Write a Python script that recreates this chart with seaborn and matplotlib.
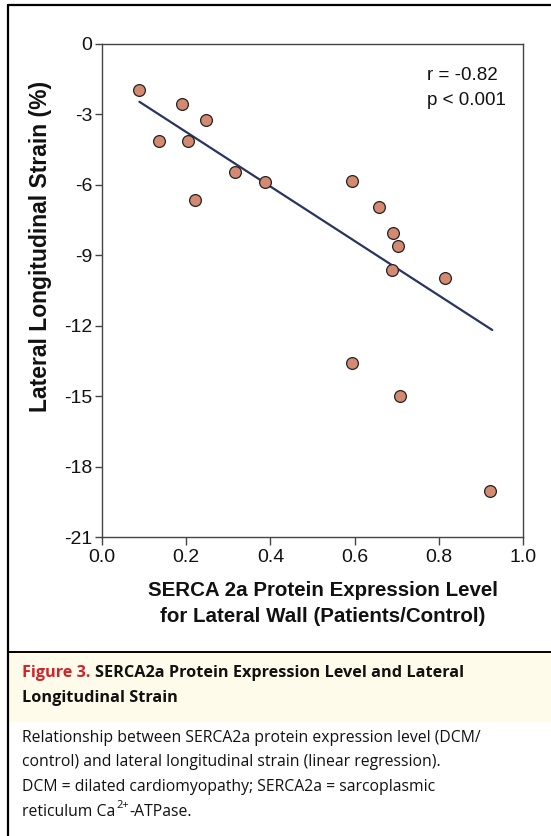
import matplotlib
matplotlib.use("Agg")
import matplotlib.pyplot as plt
import seaborn as sns
import numpy as np
import pandas as pd
from matplotlib.lines import Line2D
from matplotlib.patches import Rectangle

# ---- data ----
serca_level = [0.087, 0.189, 0.246, 0.135, 0.205, 0.315, 0.388, 0.221,
               0.594, 0.658, 0.691, 0.704, 0.690, 0.814, 0.595, 0.708, 0.922]
lateral_strain = [-1.96, -2.54, -3.24, -4.15, -4.15, -5.47, -5.86, -6.66,
                  -5.83, -6.96, -8.05, -8.62, -9.64, -9.97, -13.59, -14.98, -19.05]
fit_slope = -11.6
fit_intercept = -1.43
fit_x_range = [0.089, 0.927]
x_ticks = [0.0, 0.2, 0.4, 0.6, 0.8, 1.0]
x_tick_labels = ["0.0", "0.2", "0.4", "0.6", "0.8", "1.0"]
y_ticks = [0, -3, -6, -9, -12, -15, -18, -21]
y_tick_labels = ["0", "-3", "-6", "-9", "-12", "-15", "-18", "-21"]
stats_lines = ["r = -0.82", "p < 0.001"]
x_label_lines = ["SERCA 2a Protein Expression Level", "for Lateral Wall (Patients/Control)"]
y_label = "Lateral Longitudinal Strain (%)"
caption_head = "Figure 3."
caption_title_1 = "SERCA2a Protein Expression Level and Lateral"
caption_title_2 = "Longitudinal Strain"
caption_body = [
    "Relationship between SERCA2a protein expression level (DCM/",
    "control) and lateral longitudinal strain (linear regression).",
    "DCM = dilated cardiomyopathy; SERCA2a = sarcoplasmic",
]
caption_last = ["reticulum Ca", "2+", "-ATPase."]

sns.set_style("ticks")
plt.rcParams["font.family"] = ["Liberation Sans", "DejaVu Sans"]

W, H = 551, 836
fig = plt.figure(figsize=(W / 100, H / 100), dpi=100)
ax = fig.add_axes([102 / W, 1 - 537 / H, (523 - 102) / W, (537 - 44) / H])

df = pd.DataFrame({"x": serca_level, "y": lateral_strain})
fx = np.array(fit_x_range)
fit_df = pd.DataFrame({"x": fx, "y": fit_intercept + fit_slope * fx})

sns.lineplot(data=fit_df, x="x", y="y", ax=ax, color="#2a3461", linewidth=1.6, zorder=2)
sns.scatterplot(data=df, x="x", y="y", ax=ax, s=72, color="#d48a70",
                edgecolor="#222222", linewidth=0.9, zorder=3)

ax.set_xlim(0, 1.0)
ax.set_ylim(-21, 0)
ax.set_xticks(x_ticks)
ax.set_xticklabels(x_tick_labels)
ax.set_yticks(y_ticks)
ax.set_yticklabels(y_tick_labels)
ax.tick_params(axis="both", direction="out", length=5, width=1.0, color="#444444",
               labelsize=14, labelcolor="#111111", pad=2)
ax.tick_params(axis="x", length=6, pad=3)
for sp in ax.spines.values():
    sp.set_visible(True)
    sp.set_color("#444444")
    sp.set_linewidth(1.0)

ax.set_xlabel("")
ax.set_ylabel("")
for i, s in enumerate(x_label_lines):
    ax.text(0.525, 1 - (590 + 26 * i - 44) / 493, s, transform=ax.transAxes,
            ha="center", va="center", fontsize=14.8, fontweight="bold", color="#111111")
ax.text(-0.145, 0.59, y_label, transform=ax.transAxes, ha="center", va="center",
        rotation=90, fontsize=16.5, fontweight="bold", color="#111111")
for i, s in enumerate(stats_lines):
    ax.text(0.772, 0.937 - 0.051 * i, s, transform=ax.transAxes, ha="left", va="center",
            fontsize=13.5, color="#111111")

# ---- frame and caption ----
fig.add_artist(Rectangle((8.5 / W, 1 - 722 / H), 1, (722 - 652.5) / H,
                         transform=fig.transFigure, facecolor="#fffbea",
                         edgecolor="none", zorder=0))
fig.add_artist(Line2D([7.5 / W, 1], [1 - 5 / H, 1 - 5 / H], transform=fig.transFigure,
                      color="black", linewidth=1.6))
fig.add_artist(Line2D([7.5 / W, 7.5 / W], [0, 1 - 5 / H], transform=fig.transFigure,
                      color="black", linewidth=1.6))
fig.add_artist(Line2D([7.5 / W, 1], [1 - 651.5 / H, 1 - 651.5 / H], transform=fig.transFigure,
                      color="black", linewidth=1.4))

cap_font = ["Open Sans", "DejaVu Sans"]
t1 = fig.text(22 / W, 1 - 673 / H, caption_head + " ", fontsize=11.7, fontweight="bold",
              color="#d2232a", family=cap_font, va="center", ha="left")
fig.canvas.draw()
bb = t1.get_window_extent()
fig.text(bb.x1 / W, 1 - 673 / H, caption_title_1, fontsize=11.7, fontweight="bold",
         color="#111111", family=cap_font, va="center", ha="left")
fig.text(22 / W, 1 - 698 / H, caption_title_2, fontsize=11.7, fontweight="bold",
         color="#111111", family=cap_font, va="center", ha="left")
for i, line in enumerate(caption_body):
    fig.text(22 / W, 1 - (738 + 24.5 * i) / H, line, fontsize=11.3, color="#111111",
             family=cap_font, va="center", ha="left")

y_last = 738 + 24.5 * 3
ta = fig.text(22 / W, 1 - y_last / H, caption_last[0], fontsize=11.3, color="#111111",
              family=cap_font, va="center", ha="left")
fig.canvas.draw()
xa = ta.get_window_extent().x1 + 1
tb = fig.text(xa / W, 1 - (y_last - 6) / H, caption_last[1], fontsize=8, color="#111111",
              family=cap_font, va="center", ha="left")
fig.canvas.draw()
xb = tb.get_window_extent().x1 + 0.5
fig.text(xb / W, 1 - y_last / H, caption_last[2], fontsize=11.3, color="#111111",
         family=cap_font, va="center", ha="left")

fig.savefig("out.png", dpi=100)
